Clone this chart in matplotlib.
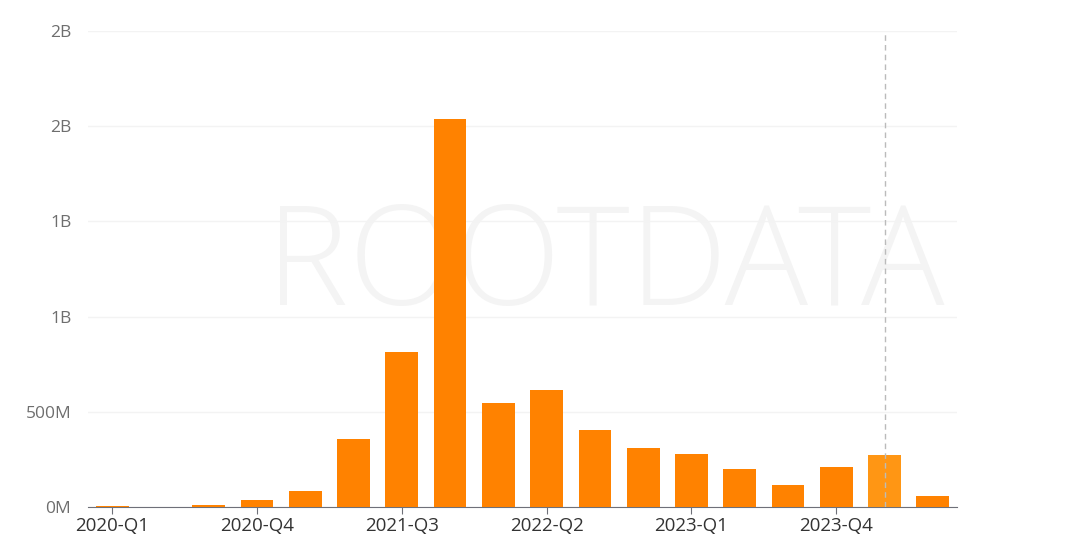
import matplotlib.pyplot as plt
from matplotlib.ticker import FixedLocator

# quarterly amounts, in millions
quarters = ["2020-Q1", "2020-Q2", "2020-Q3", "2020-Q4",
            "2021-Q1", "2021-Q2", "2021-Q3", "2021-Q4",
            "2022-Q1", "2022-Q2", "2022-Q3", "2022-Q4",
            "2023-Q1", "2023-Q2", "2023-Q3", "2023-Q4",
            "2024-Q1", "2024-Q2"]
amounts = [5, 0, 10, 37, 84, 357, 814, 2038, 546, 614,
           404, 310, 278, 200, 116, 210, 273, 58]

y_ticks = [0, 500, 1000, 1500, 2000, 2500]
y_labels = ["0M", "500M", "1B", "1B", "2B", "2B"]
highlight = "2024-Q1"

plt.rcParams['font.family'] = ['Open Sans', 'DejaVu Sans']

fig = plt.figure(figsize=(10.87, 5.49), dpi=100)

# watermark, behind the plot
fig.text(0.245, 0.51, "ROOTDATA", fontsize=100, color='#f4f4f4',
         ha='left', va='center', zorder=0, fontweight='light')

ax = fig.add_axes([88 / 1087, 1 - 507 / 549, (957 - 88) / 1087, (507 - 31) / 549])
ax.set_zorder(1)

x = list(range(len(quarters)))
colors = ['#FF9614' if q == highlight else '#FF8200' for q in quarters]
ax.bar(x, amounts, width=0.68, color=colors, zorder=3)

# hover line on highlighted quarter
hx = quarters.index(highlight)
ax.axvline(hx, color='#bbbbbb', linestyle=(0, (4, 3)), linewidth=1, zorder=4)

ax.set_xlim(-0.5, len(quarters) - 0.5)
ax.set_ylim(0, 2500)
ax.yaxis.set_major_locator(FixedLocator(y_ticks))
ax.set_yticklabels(y_labels)
ax.set_xticks(x[::3])
ax.set_xticklabels(quarters[::3])

ax.grid(axis='y', color='#f3f3f3', linewidth=1, zorder=0)
for s in ['top', 'right', 'left']:
    ax.spines[s].set_visible(False)
ax.spines['bottom'].set_color('#6e7079')
ax.tick_params(axis='y', length=0, pad=12, labelsize=12.5, labelcolor='#6e6e6e')
ax.tick_params(axis='x', length=5, color='#6e7079', pad=2, labelsize=13.5, labelcolor='#333333')
ax.set_facecolor('none')

fig.savefig("out.png", dpi=100)
